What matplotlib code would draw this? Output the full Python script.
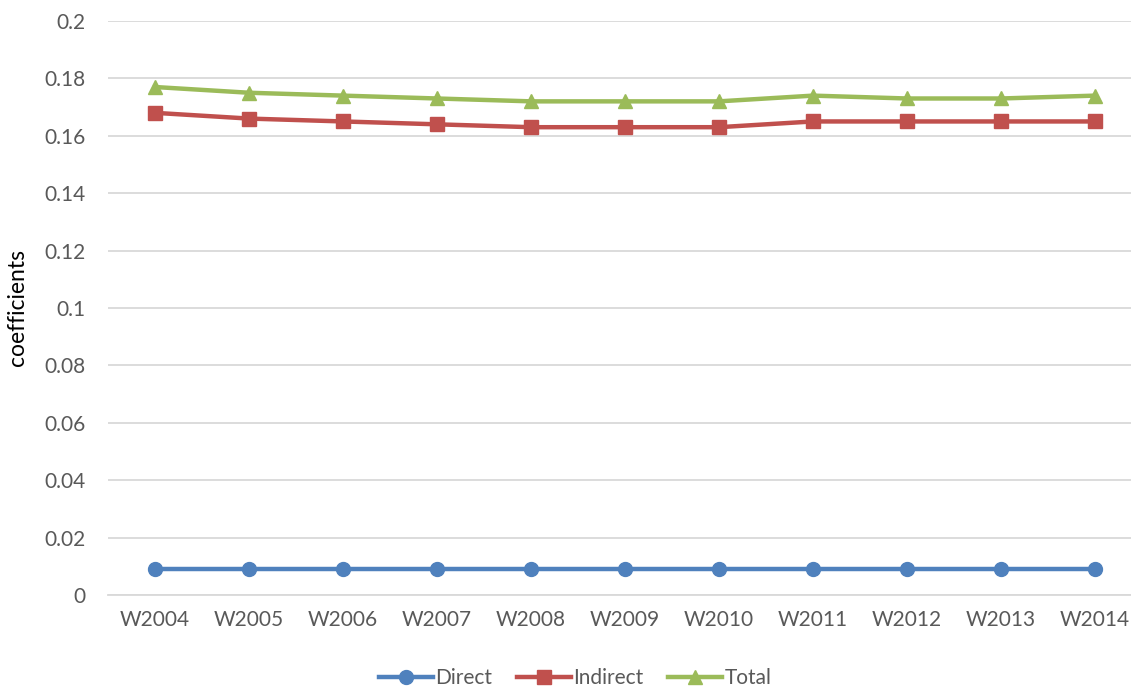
import numpy as np
import matplotlib.pyplot as plt

plt.rcParams['font.family'] = ['Lato', 'DejaVu Sans']

years = ["W2004", "W2005", "W2006", "W2007", "W2008", "W2009",
         "W2010", "W2011", "W2012", "W2013", "W2014"]
direct = [0.009] * 11
indirect = [0.168, 0.166, 0.165, 0.164, 0.163, 0.163, 0.163, 0.165, 0.165, 0.165, 0.165]
total = [0.177, 0.175, 0.174, 0.173, 0.172, 0.172, 0.172, 0.174, 0.173, 0.173, 0.174]

fig = plt.figure(figsize=(11.31, 6.88), dpi=100)
ax = fig.add_axes([108 / 1131, 1 - 595 / 688, (1142 - 108) / 1131, (595 - 21) / 688])

x = np.arange(len(years))
ax.plot(x, direct, color='#4F81BD', lw=3.2, marker='o', ms=10, label='Direct')
ax.plot(x, indirect, color='#C0504D', lw=3.2, marker='s', ms=9.5, label='Indirect')
ax.plot(x, total, color='#9BBB59', lw=3.2, marker='^', ms=10.5, label='Total')

ax.set_xlim(-0.5, len(years) - 0.5)
ax.set_ylim(0, 0.2)
yt = np.arange(0, 0.201, 0.02)
ax.set_yticks(yt)
ax.set_yticklabels(['0'] + ['%g' % round(v, 2) for v in yt[1:]])
ax.set_xticks(x)
ax.set_xticklabels(years)
ax.tick_params(length=0, labelsize=15, colors='#595959', pad=11)
ax.tick_params(axis='y', pad=16)
ax.grid(axis='y', color='#D9D9D9', lw=1.3)
ax.set_axisbelow(True)
for s in ['top', 'right', 'left']:
    ax.spines[s].set_visible(False)
ax.spines['bottom'].set_color('#D9D9D9')
ax.spines['bottom'].set_linewidth(1.3)

ax.set_ylabel('coefficients', fontsize=16.5, color='#000000', labelpad=12)

fig.legend(loc='center', bbox_to_anchor=(575 / 1131, 1 - 678 / 688), ncol=3,
           frameon=False, fontsize=15, handlelength=2.6, handletextpad=0.1,
           columnspacing=1.2, labelcolor='#595959')

fig.savefig('out.png', dpi=100)
